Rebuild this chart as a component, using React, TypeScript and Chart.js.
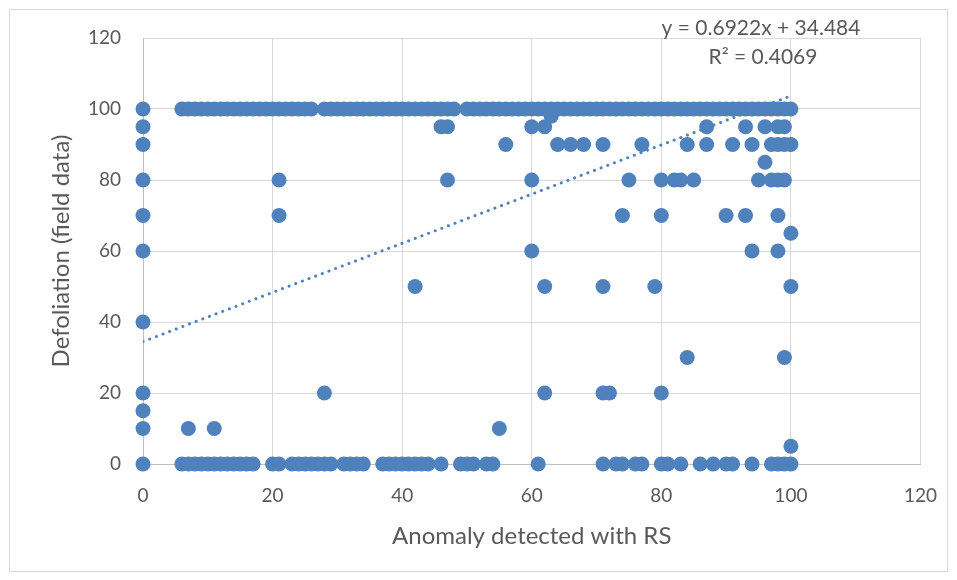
import React, { useEffect, useRef } from "react";
import { Chart, registerables } from "chart.js";

Chart.register(...registerables);

// Anomaly (x) values grouped by observed defoliation level (y)
const levels = [100, 98, 95, 90, 85, 80, 70, 65, 60, 50, 40, 30, 20, 15, 10, 5, 0];
const xsAt100 = [0, 6, 7, 8, 9, 10, 11, 12, 13, 14, 15, 16, 17, 18, 19, 20, 21, 22, 23, 24, 25, 26,
  28, 29, 30, 31, 32, 33, 34, 35, 36, 37, 38, 39, 40, 41, 42, 43, 44, 45, 46, 47, 48,
  50, 51, 52, 53, 54, 55, 56, 57, 58, 59, 60, 61, 62, 63, 64, 65, 66, 67, 68, 69, 70, 71, 72, 73, 74, 75,
  76, 77, 78, 79, 80, 81, 82, 83, 84, 85, 86, 87, 88, 89, 90, 91, 92, 93, 94, 95, 96, 97, 98, 99, 100];
const xsAt98 = [63];
const xsAt95 = [0, 46, 47, 60, 62, 87, 93, 96, 98, 99];
const xsAt90 = [0, 56, 64, 66, 68, 71, 77, 84, 87, 91, 94, 97, 98, 99, 100];
const xsAt85 = [96];
const xsAt80 = [0, 21, 47, 60, 75, 80, 82, 83, 85, 95, 97, 98, 99];
const xsAt70 = [0, 21, 74, 80, 90, 93, 98];
const xsAt65 = [100];
const xsAt60 = [0, 60, 94, 98];
const xsAt50 = [42, 62, 71, 79, 100];
const xsAt40 = [0];
const xsAt30 = [84, 99];
const xsAt20 = [0, 28, 62, 71, 72, 80];
const xsAt15 = [0];
const xsAt10 = [0, 7, 11, 55];
const xsAt5 = [100];
const xsAt0 = [0, 6, 7, 8, 9, 10, 11, 12, 13, 14, 15, 16, 17, 20, 21, 23, 24, 25, 26, 27, 28, 29,
  31, 32, 33, 34, 37, 38, 39, 40, 41, 42, 43, 44, 46, 49, 50, 51, 53, 54, 61, 71, 73, 74, 76, 77,
  80, 81, 83, 86, 88, 90, 91, 94, 97, 98, 99, 100];
const xGroups = [xsAt100, xsAt98, xsAt95, xsAt90, xsAt85, xsAt80, xsAt70, xsAt65, xsAt60, xsAt50,
  xsAt40, xsAt30, xsAt20, xsAt15, xsAt10, xsAt5, xsAt0];

// Linear trendline
const trendSlope = 0.6922;
const trendIntercept = 34.484;
const trendXs = [0, 100];
const equationText = "y = 0.6922x + 34.484";
const r2Text = "R² = 0.4069";

const xTitle = "Anomaly detected with RS";
const yTitle = "Defoliation (field data)";

const BLUE = "#4F81BD";
const FONT = "Lato, 'Liberation Sans', sans-serif";

export default function App() {
  const ref = useRef<HTMLCanvasElement>(null);
  useEffect(() => {
    document.body.style.margin = "0";
    const points: { x: number; y: number }[] = [];
    levels.forEach((lv, i) => xGroups[i].forEach((x) => points.push({ x, y: lv })));
    const trend = trendXs.map((x) => ({ x, y: trendSlope * x + trendIntercept }));

    const overlay = {
      id: "overlay",
      beforeDraw(chart: any) {
        const c = chart.ctx;
        c.save();
        c.fillStyle = "#ffffff";
        c.fillRect(0, 0, chart.width, chart.height);
        c.strokeStyle = "#d9d9d9";
        c.lineWidth = 1;
        c.strokeRect(9.5, 9.5, 938, 562);
        c.restore();
      },
      afterDraw(chart: any) {
        const c = chart.ctx;
        c.save();
        c.fillStyle = "#595959";
        c.font = `21px ${FONT}`;
        c.textAlign = "center";
        c.textBaseline = "middle";
        c.fillText(equationText, 761, 28);
        c.fillText(r2Text, 763, 57);
        c.restore();
      },
    };

    const chart = new Chart(ref.current!, {
      type: "scatter",
      data: {
        datasets: [
          {
            type: "line" as any,
            data: trend,
            borderColor: BLUE,
            borderWidth: 3,
            borderDash: [0.1, 7],
            borderCapStyle: "round",
            pointRadius: 0,
            fill: false,
          } as any,
          {
            data: points,
            backgroundColor: BLUE,
            borderColor: BLUE,
            borderWidth: 0,
            pointRadius: 7.5,
            clip: false,
          } as any,
        ],
      },
      plugins: [overlay],
      options: {
        responsive: false,
        animation: false,
        layout: { padding: { left: 0, top: 38, right: 35, bottom: 0 } },
        plugins: { legend: { display: false }, tooltip: { enabled: false } },
        scales: {
          x: {
            type: "linear",
            min: 0,
            max: 120,
            ticks: { stepSize: 20, color: "#595959", font: { family: FONT, size: 19 }, padding: 20 },
            grid: { color: "#d9d9d9", drawTicks: false },
            border: { color: "#bfbfbf" },
            title: { display: true, text: xTitle, color: "#595959", font: { family: FONT, size: 24 }, padding: { top: 0, bottom: 29 } },
            afterFit(scale: any) { scale.height = 116; },
          },
          y: {
            type: "linear",
            min: 0,
            max: 120,
            ticks: { stepSize: 20, color: "#595959", font: { family: FONT, size: 19 }, padding: 22 },
            grid: { color: "#d9d9d9", drawTicks: false },
            border: { color: "#bfbfbf" },
            title: { display: true, text: yTitle, color: "#595959", font: { family: FONT, size: 24 }, padding: { top: 47, bottom: 0 } },
            afterFit(scale: any) { scale.width = 143; },
          },
        },
      },
    });
    return () => chart.destroy();
  }, []);
  return (
    <div style={{ position: "absolute", left: 0, top: 0 }}>
      <canvas ref={ref} width={957} height={580} />
    </div>
  );
}
